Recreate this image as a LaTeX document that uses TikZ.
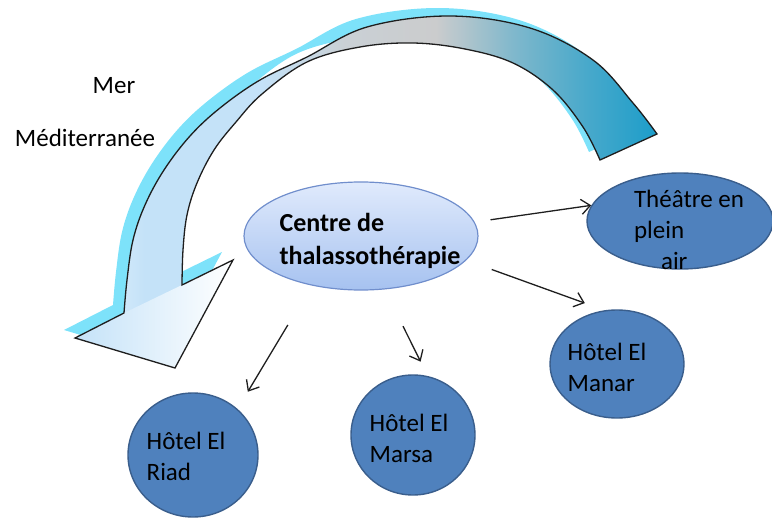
\documentclass[tikz,border=0pt]{standalone}
\usepackage{fontspec}
\setmainfont{Carlito}
\usetikzlibrary{arrows.meta,shapes.geometric}

\definecolor{hotelblue}{RGB}{79,129,189}
\definecolor{hoteledge}{RGB}{58,94,140}
\definecolor{hubtop}{RGB}{224,234,252}
\definecolor{hubbottom}{RGB}{166,194,240}
\definecolor{hubedge}{RGB}{112,142,204}
\definecolor{seashadow}{RGB}{125,226,250}
\definecolor{seawhite}{RGB}{226,241,252}
\definecolor{sealight}{RGB}{196,226,248}
\definecolor{seagray}{RGB}{203,204,205}
\definecolor{seateal}{RGB}{28,157,202}
\definecolor{arrowblack}{RGB}{30,30,30}

\pgfdeclarehorizontalshading{seaband}{100bp}{color(0bp)=(seawhite); color(26bp)=(seawhite);
  color(31bp)=(sealight); color(41bp)=(sealight); color(48bp)=(seagray!80!sealight);
  color(56bp)=(seagray); color(63bp)=(seagray!55!seateal); color(69bp)=(seagray!25!seateal);
  color(75bp)=(seateal); color(100bp)=(seateal)}

\begin{document}
\begin{tikzpicture}[x=1pt,y=-1pt,>={Straight Barb[length=9pt,width=15pt]}]
  \tikzstyle{hotel}=[ellipse,fill=hotelblue,draw=hoteledge,line width=1.4pt,inner sep=0pt]
  \tikzstyle{hub}=[ellipse,top color=hubtop,bottom color=hubbottom,draw=hubedge,line width=1.2pt,inner sep=0pt]
  \tikzstyle{words}=[align=left,inner sep=0pt,font=\fontsize{25}{31}\selectfont]
  \tikzstyle{link}=[->,line width=1.3pt,arrowblack]

  \useasboundingbox (0,0) rectangle (772,519);

  % the sea, as a bent ribbon
  \def\seaband{plot[smooth,tension=0.6] coordinates {(657,134) (633,103) (593,60) (530,28) (450,16)
      (367,27) (307,57) (260,80) (220,108) (190,136) (164,170) (145,205) (133,240) (127,280) (124,313)}
    -- (75,338) -- (175,368) -- (233,260) -- (182,285)
    -- plot[smooth,tension=0.6] coordinates {(182,285) (183,250) (187,215) (197,183) (214,150)
      (236,122) (262,94) (307,62) (360,47) (413,43) (465,49) (513,63) (553,90) (583,127) (600,160)}
    -- cycle}
  \fill[seashadow,shift={(-11,-8)}] \seaband;
  \shade[shading=seaband] \seaband;
  \shade[left color=sealight,right color=white] (124,313) -- (75,338) -- (175,368) -- (233,260) -- (182,285) -- cycle;
  \draw[line width=1.3pt,arrowblack,line join=miter] \seaband;

  \node[words] (mer)          at (114,86)  {Mer};
  \node[words] (mediterranee) at (85,138)  {Méditerranée};

  \node[hub]   (centre)  at (361,236) [minimum width=234pt,minimum height=108pt] {};
  \node[hotel] (theatre) at (680,221) [minimum width=186pt,minimum height=96pt] {};
  \node[hotel] (manar)   at (617,364) [minimum width=134pt,minimum height=108pt] {};
  \node[hotel] (marsa)   at (413,435) [minimum width=124pt,minimum height=120pt] {};
  \node[hotel] (riad)    at (193,455) [minimum width=130pt,minimum height=124pt] {};

  \node[words,font=\fontsize{26}{33}\selectfont\bfseries] (centretext) at ([shift={(9,5)}]centre) {Centre de\\thalassothérapie};
  \node[words] (theatretext) at ([shift={(9,9)}]theatre) {Théâtre en\\plein\\\hspace*{27pt}air};
  \node[words] (manartext)   at ([shift={(-10,3)}]manar) {Hôtel El\\Manar};
  \node[words] (marsatext)   at ([shift={(-4,3)}]marsa)  {Hôtel El\\Marsa};
  \node[words] (riadtext)    at ([shift={(-7,1)}]riad)   {Hôtel El\\Riad};

  \path[link]
  (centre.7)     edge[shorten <=16pt] (theatre.170)
  (centre.-13.5) edge[shorten <=27pt,shorten >=21pt] (manar.103)
  (centre.-66)   edge[shorten <=41pt,shorten >=16pt] (marsa.76)
  (centre.-135)  edge[shorten <=46pt,shorten >=20pt] (riad.46);
\end{tikzpicture}
\end{document}
